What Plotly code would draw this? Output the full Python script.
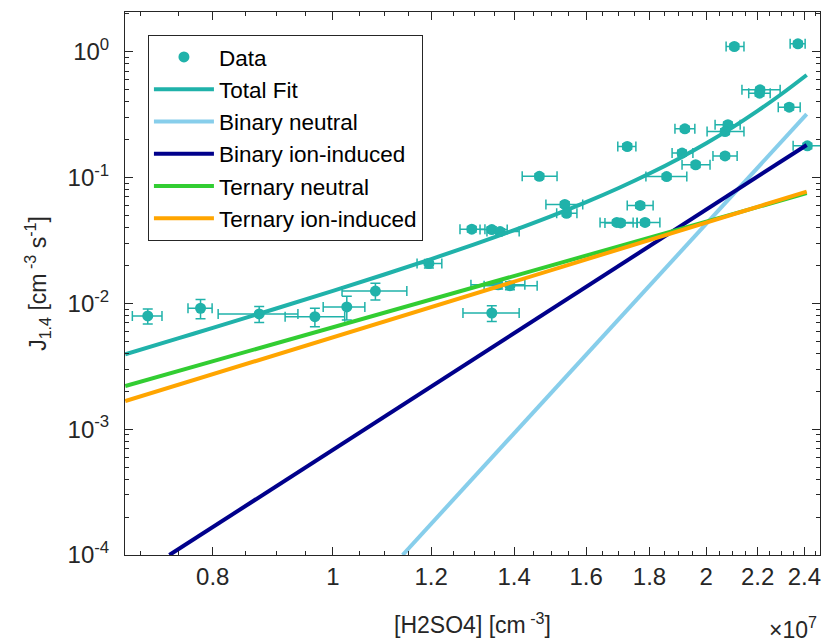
import plotly.graph_objects as go

# ---- data (x in cm^-3, y = J1.4 in cm^-3 s^-1) ----
data_x = [0.709e7, 0.782e7, 0.872e7, 0.967e7, 1.026e7, 1.082e7, 1.195e7, 1.343e7, 1.359e7, 1.389e7,
          1.294e7, 1.343e7, 1.364e7, 1.467e7, 1.538e7, 1.543e7, 1.694e7, 1.706e7, 1.769e7, 1.785e7,
          1.727e7, 1.858e7, 1.912e7, 1.922e7, 1.961e7, 2.071e7, 2.082e7, 2.071e7, 2.107e7, 2.210e7,
          2.208e7, 2.333e7, 2.371e7, 2.413e7]
data_x_err_minus = [0.020e7, 0.018e7, 0.064e7, 0.052e7, 0.044e7, 0.065e7, 0.026e7, 0.070e7, 0.067e7, 0.065e7,
                    0.028e7, 0.029e7, 0.033e7, 0.046e7, 0.053e7, 0.028e7, 0.052e7, 0.049e7, 0.042e7, 0.026e7,
                    0.030e7, 0.070e7, 0.035e7, 0.035e7, 0.049e7, 0.046e7, 0.049e7, 0.068e7, 0.032e7, 0.073e7,
                    0.044e7, 0.047e7, 0.034e7, 0.063e7]
data_x_err_plus = [0.019e7, 0.017e7, 0.065e7, 0.055e7, 0.035e7, 0.065e7, 0.029e7, 0.070e7, 0.069e7, 0.072e7,
                   0.032e7, 0.039e7, 0.049e7, 0.049e7, 0.052e7, 0.030e7, 0.052e7, 0.053e7, 0.043e7, 0.050e7,
                   0.028e7, 0.071e7, 0.039e7, 0.036e7, 0.053e7, 0.047e7, 0.048e7, 0.074e7, 0.038e7, 0.084e7,
                   0.044e7, 0.048e7, 0.032e7, 0.104e7]
data_y = [7.93e-3, 9.13e-3, 8.22e-3, 7.82e-3, 9.35e-3, 1.25e-2, 2.07e-2, 8.37e-3, 1.40e-2, 1.38e-2,
          3.88e-2, 3.85e-2, 3.71e-2, 0.102, 6.10e-2, 5.19e-2, 4.39e-2, 4.35e-2, 5.99e-2, 4.39e-2,
          0.176, 0.1015, 0.156, 0.243, 0.126, 0.148, 0.262, 0.231, 1.096, 0.496,
          0.467, 0.361, 1.151, 0.178]
data_y_err = [1.08e-3, 1.6e-3, 1.2e-3, 1.3e-3, 2.0e-3, 1.9e-3, 1.6e-3, 1.2e-3, 1.0e-3, 1.0e-3,
              2.0e-3, 2.0e-3, 2.0e-3, 5.0e-3, 3.0e-3, 2.5e-3, 2.0e-3, 2.0e-3, 3.0e-3, 2.0e-3,
              9.0e-3, 5.0e-3, 8.0e-3, 1.2e-2, 6.0e-3, 7.0e-3, 1.3e-2, 1.2e-2, 5.0e-2, 2.5e-2,
              2.3e-2, 1.8e-2, 5.5e-2, 9.0e-3]

# ---- fitted curves ----
fit_x = [0.68e7, 0.75e7, 0.8e7, 0.9e7, 1.0e7, 1.1e7, 1.2e7, 1.3e7, 1.4e7, 1.5e7, 1.6e7,
         1.7e7, 1.8e7, 1.9e7, 2.0e7, 2.1e7, 2.2e7, 2.3e7, 2.41e7]
total_fit_y = [3.93e-3, 5.26e-3, 6.375e-3, 9.085e-3, 1.2544e-2, 1.6919e-2, 2.243e-2, 2.934e-2, 3.808e-2,
               4.922e-2, 6.360e-2, 8.239e-2, 0.10732, 0.14091, 0.18672, 0.24981, 0.3375, 0.45983, 0.6512]
binary_neutral_x = [1.138e7, 2.41e7]
binary_neutral_y = [1e-4, 0.318]
binary_ion_x = [0.738e7, 2.41e7]
binary_ion_y = [1e-4, 0.181]
ternary_neutral_x = [0.68e7, 2.41e7]
ternary_neutral_y = [2.20e-3, 0.0749]
ternary_ion_x = [0.68e7, 2.41e7]
ternary_ion_y = [1.67e-3, 0.077]

# ---- axis ticks ----
x_tick_vals = [0.8e7, 1.0e7, 1.2e7, 1.4e7, 1.6e7, 1.8e7, 2.0e7, 2.2e7, 2.4e7]
x_tick_text = ["0.8", "1", "1.2", "1.4", "1.6", "1.8", "2", "2.2", "2.4"]
x_minor_vals = [v * 0.05e7 for v in range(14, 50)]
y_tick_vals = [1e-4, 1e-3, 1e-2, 1e-1, 1]
y_tick_text = ["10<sup>-4</sup>", "10<sup>-3</sup>", "10<sup>-2</sup>", "10<sup>-1</sup>", "10<sup>0</sup>"]
y_minor_vals = [m * 10.0 ** d for d in range(-4, 1) for m in range(2, 10)]

TEAL = "#20B2AA"
FONT = "Liberation Sans, Arial, sans-serif"
AXC = "#262626"

fig = go.Figure()
fig.add_trace(go.Scatter(
    x=data_x, y=data_y, mode="markers", name="Data",
    marker=dict(color=TEAL, size=11, symbol="circle"),
    error_x=dict(type="data", symmetric=False, array=data_x_err_plus, arrayminus=data_x_err_minus,
                 color=TEAL, thickness=1.5, width=5),
    error_y=dict(type="data", array=data_y_err, color=TEAL, thickness=1.5, width=5),
))
fig.add_trace(go.Scatter(x=fit_x, y=total_fit_y, mode="lines", name="Total Fit",
                         line=dict(color=TEAL, width=4, shape="spline")))
fig.add_trace(go.Scatter(x=binary_neutral_x, y=binary_neutral_y, mode="lines", name="Binary neutral",
                         line=dict(color="#87CEEB", width=4)))
fig.add_trace(go.Scatter(x=binary_ion_x, y=binary_ion_y, mode="lines", name="Binary ion-induced",
                         line=dict(color="#00008B", width=4)))
fig.add_trace(go.Scatter(x=ternary_neutral_x, y=ternary_neutral_y, mode="lines", name="Ternary neutral",
                         line=dict(color="#32CD32", width=4)))
fig.add_trace(go.Scatter(x=ternary_ion_x, y=ternary_ion_y, mode="lines", name="Ternary ion-induced",
                         line=dict(color="#FFA500", width=4)))

fig.update_layout(
    width=824, height=642,
    margin=dict(l=125, r=4, t=12, b=87, autoexpand=False),
    paper_bgcolor="white", plot_bgcolor="white",
    font=dict(family=FONT, size=23, color=AXC),
    showlegend=True,
    legend=dict(x=0.033, y=0.958, xanchor="left", yanchor="top",
                bgcolor="white", bordercolor=AXC, borderwidth=1,
                font=dict(family=FONT, size=22.5, color="black"),
                itemwidth=60, tracegroupgap=0),
)
fig.update_xaxes(
    type="log", range=[6.8323, 7.39274], automargin=False,
    tickmode="array", tickvals=x_tick_vals, ticktext=x_tick_text,
    ticks="inside", ticklen=8, tickcolor=AXC, tickwidth=1,
    minor=dict(tickmode="array", tickvals=x_minor_vals, ticks="inside", ticklen=4, tickcolor=AXC, showgrid=False),
    showline=True, linecolor=AXC, linewidth=1, mirror="allticks",
    showgrid=False, zeroline=False,
    tickfont=dict(family=FONT, size=24, color=AXC),
    title=dict(text="[H2SO4] [cm<sup> -3</sup>]", font=dict(family=FONT, size=23, color=AXC), standoff=28),
)
fig.update_yaxes(
    type="log", range=[-4, 0.314], automargin=False,
    tickmode="array", tickvals=y_tick_vals, ticktext=y_tick_text,
    ticks="inside", ticklen=8, tickcolor=AXC, tickwidth=1, ticklabelstandoff=10,
    minor=dict(tickmode="array", tickvals=y_minor_vals, ticks="inside", ticklen=4, tickcolor=AXC, showgrid=False),
    showline=True, linecolor=AXC, linewidth=1, mirror="allticks",
    showgrid=False, zeroline=False,
    tickfont=dict(family=FONT, size=24, color=AXC),
    title=dict(text="J<sub>1.4</sub> [cm<sup> -3</sup> s<sup>-1</sup>]", font=dict(family=FONT, size=23, color=AXC), standoff=14),
)
fig.add_annotation(xref="paper", yref="paper", x=0.998, y=-0.134, xanchor="right", yanchor="middle",
                   text="×10<sup>7</sup>", showarrow=False, font=dict(family=FONT, size=23, color=AXC))

fig.write_html("out.html", config={"displayModeBar": False},
               post_script="document.body.style.margin='0';document.body.style.overflow='hidden';")
